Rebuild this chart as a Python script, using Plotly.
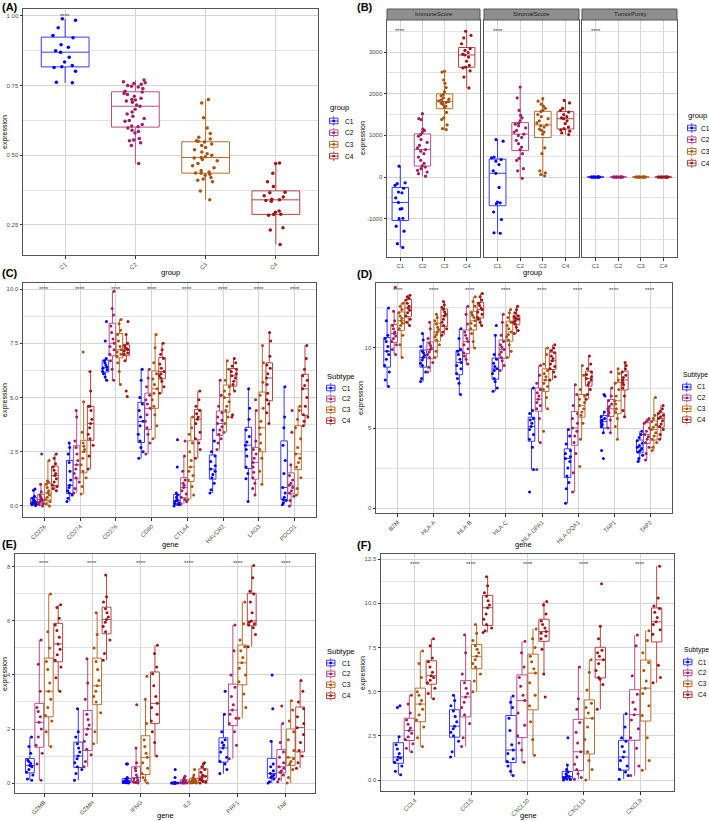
import plotly.graph_objects as go

W, H = 709, 821
FONT = "Liberation Sans, Arial, sans-serif"
SUBTYPES = ["C1", "C2", "C3", "C4"]
PT_COLORS = ["#0000FF", "#9E1F63", "#A8520E", "#9B1515"]
BOX_COLORS = ["#3A3AFF", "#B4508C", "#B86E30", "#B24444"]
GRID = "#D4D4D4"
GRID_MINOR = "#E3E3E3"
BORDER = "#555555"

# ---------------- Panel A ----------------
A_C1 = [0.760, 0.762, 0.802, 0.815, 0.818, 0.822, 0.835, 0.852, 0.870, 0.875, 0.888, 0.897, 0.922, 0.930, 0.958, 0.985, 0.990]
A_C2 = [0.470, 0.535, 0.545, 0.552, 0.555, 0.560, 0.580, 0.585, 0.590, 0.598, 0.602, 0.605, 0.610, 0.622, 0.625, 0.632, 0.640,
        0.648, 0.655, 0.665, 0.676, 0.680, 0.690, 0.695, 0.698, 0.700, 0.705, 0.712, 0.718, 0.722, 0.727, 0.730, 0.740, 0.745,
        0.748, 0.750, 0.755, 0.758, 0.760, 0.764, 0.770]
A_C3 = [0.340, 0.372, 0.405, 0.410, 0.415, 0.420, 0.428, 0.432, 0.435, 0.436, 0.440, 0.445, 0.455, 0.462, 0.470, 0.480, 0.485,
        0.490, 0.492, 0.495, 0.500, 0.505, 0.512, 0.520, 0.528, 0.535, 0.540, 0.548, 0.550, 0.552, 0.558, 0.565, 0.578, 0.598,
        0.635, 0.688, 0.700]
A_C4 = [0.180, 0.232, 0.240, 0.285, 0.287, 0.288, 0.295, 0.300, 0.335, 0.338, 0.340, 0.342, 0.350, 0.355, 0.365, 0.367, 0.388,
        0.405, 0.435, 0.470, 0.472]
A_sig_y = 1.0

# ---------------- Panel B ----------------
B_facets = ["ImmuneScore", "StromalScore", "TumorPurity"]
B_immune = [
    [-1690, -1600, -1300, -1180, -1000, -990, -770, -760, -610, -500, -380, -360, -270, -200, -160, -140, 260],
    [20, 80, 120, 160, 200, 240, 270, 330, 400, 480, 560, 620, 660, 700, 760, 830, 900, 980, 1020, 1080, 1120, 1150, 1380, 1400, 1520],
    [1140, 1160, 1250, 1380, 1420, 1550, 1670, 1700, 1740, 1770, 1790, 1800, 1810, 1830, 1850, 1870, 1900, 1950, 1980, 2050, 2150, 2250, 2330, 2520, 2540],
    [2140, 2400, 2550, 2620, 2640, 2680, 2780, 2880, 2930, 2950, 2990, 3040, 3080, 3200, 3340, 3400, 3500],
]
B_stromal = [
    [-1350, -1340, -1020, -840, -640, -620, -600, -250, 90, 150, 300, 380, 420, 460, 480, 860, 900],
    [-30, 150, 200, 400, 450, 560, 660, 720, 800, 880, 950, 1000, 1030, 1080, 1120, 1180, 1230, 1270, 1290, 1350, 1420, 1480, 1600, 1900, 2160],
    [30, 60, 100, 150, 560, 700, 1030, 1080, 1120, 1150, 1200, 1230, 1250, 1300, 1350, 1400, 1450, 1500, 1570, 1600, 1650, 1700, 1750, 1820, 1880],
    [1020, 1060, 1100, 1130, 1160, 1200, 1280, 1350, 1400, 1420, 1450, 1500, 1560, 1600, 1650, 1780, 1840],
]
B_purity = [
    [0.78, 0.82, 0.85, 0.87, 0.89, 0.90, 0.91, 0.92, 0.93, 0.94, 0.95, 0.96, 0.97],
    [0.55, 0.60, 0.65, 0.68, 0.70, 0.73, 0.75, 0.77, 0.79, 0.81, 0.84, 0.87, 0.90],
    [0.45, 0.50, 0.55, 0.58, 0.62, 0.65, 0.68, 0.70, 0.72, 0.75, 0.78, 0.80, 0.85],
    [0.35, 0.40, 0.45, 0.48, 0.52, 0.55, 0.58, 0.60, 0.63, 0.66, 0.70, 0.74, 0.80],
]
B_ticks = [-1000, 0, 1000, 2000, 3000]
B_minor = [-1500, -500, 500, 1500, 2500, 3500]
B_sig_y = 3500

# ---------------- Panel C ----------------
C_genes = ["CD226", "CD274", "CD276", "CD80", "CTLA4", "HAVCR2", "LAG3", "PDCD1"]
C_C1 = [
    [0.02, 0.05, 0.08, 0.10, 0.14, 0.17, 0.20, 0.24, 0.30, 0.35, 0.45, 0.72, 0.78],
    [0.20, 0.35, 0.50, 0.60, 0.70, 0.85, 0.95, 1.20, 1.60, 2.00, 2.40, 2.70, 2.90],
    [5.80, 5.95, 6.10, 6.20, 6.28, 6.35, 6.40, 6.50, 6.60, 6.70, 6.80, 7.60, 8.50],
    [2.20, 2.50, 2.70, 3.00, 3.30, 3.70, 3.90, 4.10, 4.40, 4.70, 5.00, 5.80, 6.30],
    [0.00, 0.05, 0.08, 0.10, 0.15, 0.20, 0.25, 0.30, 0.40, 0.50, 0.60, 1.80, 3.05],
    [0.60, 0.75, 1.05, 1.30, 1.45, 1.60, 1.70, 1.85, 2.05, 2.30, 2.50, 3.00, 3.50],
    [0.20, 1.25, 1.50, 1.80, 2.30, 2.60, 2.80, 2.95, 3.20, 3.50, 4.00, 4.50, 5.40],
    [0.05, 0.15, 0.25, 0.30, 0.40, 0.60, 0.85, 1.50, 2.10, 2.80, 3.60, 4.10, 5.50],
]
C_C2 = [
    [0.00, 0.05, 0.10, 0.15, 0.20, 0.25, 0.30, 0.35, 0.42, 0.50, 0.65, 1.00, 2.40],
    [0.60, 0.80, 1.10, 1.30, 1.50, 1.70, 1.90, 2.10, 2.40, 2.70, 3.00, 4.10, 4.40],
    [5.80, 6.30, 6.70, 7.00, 7.20, 7.35, 7.50, 7.70, 8.00, 8.30, 8.80, 9.10, 9.90],
    [2.40, 2.90, 3.30, 3.60, 3.90, 4.20, 4.50, 4.70, 4.90, 5.10, 5.50, 5.90, 6.30],
    [0.10, 0.20, 0.30, 0.40, 0.55, 0.70, 0.85, 0.95, 1.05, 1.20, 1.60, 2.30, 3.00],
    [2.60, 2.90, 3.10, 3.30, 3.50, 3.65, 3.80, 3.95, 4.10, 4.30, 4.60, 5.10, 5.80],
    [0.50, 0.80, 1.05, 1.30, 1.55, 1.80, 2.00, 2.20, 2.40, 2.60, 3.00, 4.40, 4.90],
    [0.00, 0.25, 0.45, 0.60, 0.70, 0.85, 0.95, 1.05, 1.20, 1.40, 1.90, 3.40, 4.40],
]
C_C3 = [
    [0.00, 0.10, 0.20, 0.30, 0.40, 0.50, 0.60, 0.70, 0.85, 1.00, 1.10, 1.15, 2.10],
    [0.55, 0.90, 1.30, 1.60, 1.90, 2.20, 2.50, 2.60, 2.75, 2.90, 3.40, 4.80, 7.10],
    [5.60, 6.20, 6.60, 6.90, 7.00, 7.10, 7.20, 7.35, 7.60, 7.90, 8.10, 8.40, 8.60],
    [3.10, 3.70, 4.20, 4.60, 4.90, 5.20, 5.40, 5.60, 5.85, 6.10, 6.60, 7.30, 7.90],
    [0.30, 0.50, 0.90, 1.20, 1.40, 1.60, 1.80, 2.10, 2.50, 2.90, 3.30, 3.60, 4.10],
    [3.40, 3.80, 4.10, 4.40, 4.60, 4.80, 5.00, 5.15, 5.30, 5.50, 5.80, 6.30, 6.70],
    [1.00, 1.60, 2.20, 2.60, 2.90, 3.30, 3.60, 3.90, 4.50, 5.10, 5.70, 6.60, 7.40],
    [0.50, 0.80, 1.30, 1.80, 2.00, 2.20, 2.40, 2.70, 3.10, 3.60, 4.00, 4.40, 4.60],
]
C_C4 = [
    [0.70, 0.80, 0.90, 0.95, 1.10, 1.25, 1.40, 1.50, 1.65, 1.80, 1.95, 2.20, 2.40],
    [1.70, 2.30, 2.80, 3.10, 3.30, 3.60, 3.80, 4.00, 4.40, 4.60, 4.60, 5.30, 6.20],
    [5.05, 5.30, 6.70, 7.00, 7.05, 7.15, 7.20, 7.25, 7.30, 7.40, 7.50, 7.90, 8.50],
    [5.20, 5.50, 5.75, 5.90, 6.00, 6.10, 6.20, 6.35, 6.55, 6.80, 7.00, 7.20, 7.50],
    [2.20, 2.60, 2.90, 3.10, 3.40, 3.80, 4.00, 4.10, 4.25, 4.40, 4.60, 4.90, 5.30],
    [4.10, 4.20, 5.30, 5.60, 5.75, 5.90, 6.00, 6.10, 6.20, 6.30, 6.45, 6.60, 6.80],
    [3.80, 4.30, 4.70, 4.90, 5.20, 5.60, 5.90, 6.10, 6.35, 6.50, 6.90, 7.60, 8.00],
    [3.70, 3.90, 4.10, 4.20, 4.60, 5.00, 5.40, 5.55, 5.80, 6.00, 6.30, 6.80, 7.40],
]
C_sig_y = 10.0

# ---------------- Panel D ----------------
D_genes = ["B2M", "HLA-A", "HLA-B", "HLA-C", "HLA-DPA1", "HLA-DQA1", "TAP1", "TAP2"]
D_C1 = [
    [7.60, 8.00, 8.50, 8.90, 9.30, 9.60, 9.80, 10.10, 10.40, 10.60, 10.80, 11.70, 12.50],
    [7.90, 8.10, 8.50, 8.90, 9.05, 9.25, 9.40, 9.55, 9.70, 9.80, 10.10, 10.50, 10.90],
    [7.10, 7.80, 8.10, 8.40, 8.70, 8.90, 9.10, 9.30, 9.60, 9.80, 9.90, 10.60, 11.20],
    [7.30, 7.50, 7.90, 8.10, 8.40, 8.60, 8.70, 8.85, 9.05, 9.30, 9.60, 10.80, 11.40],
    [1.00, 2.40, 3.80, 4.30, 4.60, 4.90, 5.10, 5.30, 5.50, 5.60, 5.90, 6.10, 7.50],
    [0.30, 1.20, 1.60, 2.00, 2.50, 2.90, 3.10, 3.20, 3.40, 3.60, 4.00, 4.50, 4.90],
    [3.10, 3.60, 4.70, 5.10, 5.20, 5.30, 5.40, 5.50, 5.60, 5.70, 6.00, 7.00, 7.10],
    [2.90, 3.10, 3.30, 3.50, 3.60, 3.70, 3.80, 3.90, 4.05, 4.20, 4.40, 4.60, 4.80],
]
D_C2 = [
    [9.60, 9.90, 10.20, 10.40, 10.60, 10.75, 10.90, 11.00, 11.20, 11.40, 11.70, 12.30, 13.80],
    [8.50, 8.80, 9.10, 9.40, 9.60, 9.75, 9.90, 10.00, 10.15, 10.30, 10.60, 11.20, 11.60],
    [9.00, 9.30, 9.50, 9.70, 9.95, 10.20, 10.40, 10.60, 10.80, 11.00, 11.50, 12.10, 12.60],
    [8.60, 8.90, 9.20, 9.40, 9.60, 9.75, 9.90, 10.05, 10.20, 10.40, 10.80, 11.60, 12.10],
    [2.40, 4.10, 5.60, 6.20, 6.40, 6.60, 6.80, 7.00, 7.20, 7.40, 7.80, 8.30, 8.90],
    [1.00, 2.20, 3.40, 4.10, 4.50, 4.80, 5.00, 5.30, 5.60, 5.90, 6.40, 7.10, 7.70],
    [4.70, 5.00, 5.50, 5.80, 5.95, 6.10, 6.20, 6.35, 6.50, 6.70, 7.00, 7.50, 8.50],
    [3.00, 3.40, 3.80, 4.10, 4.30, 4.45, 4.60, 4.80, 5.00, 5.30, 5.40, 5.50, 5.60],
]
D_C3 = [
    [9.40, 10.20, 10.80, 11.20, 11.40, 11.55, 11.70, 11.85, 12.00, 12.20, 12.40, 12.60, 12.80],
    [9.40, 9.80, 10.20, 10.50, 10.70, 10.85, 11.00, 11.15, 11.30, 11.50, 11.70, 11.90, 12.10],
    [10.00, 10.40, 10.90, 11.20, 11.40, 11.55, 11.70, 11.90, 12.05, 12.20, 12.60, 12.90, 13.20],
    [9.40, 9.80, 10.20, 10.50, 10.70, 10.85, 11.00, 11.20, 11.40, 11.60, 11.90, 12.20, 12.40],
    [4.80, 6.20, 6.90, 7.40, 7.60, 7.80, 8.00, 8.20, 8.40, 8.60, 9.00, 9.60, 10.00],
    [2.60, 4.30, 5.30, 5.80, 6.00, 6.20, 6.40, 6.60, 6.80, 7.00, 7.40, 8.30, 8.90],
    [4.30, 5.10, 5.60, 6.00, 6.20, 6.50, 6.70, 7.00, 7.40, 7.80, 8.00, 8.40, 8.70],
    [3.60, 3.80, 4.10, 4.30, 4.50, 4.70, 4.90, 5.05, 5.20, 5.40, 5.60, 5.80, 6.90],
]
D_C4 = [
    [11.40, 11.60, 11.80, 12.00, 12.20, 12.35, 12.50, 12.60, 12.80, 13.00, 13.10, 13.20, 13.30],
    [10.80, 11.00, 11.20, 11.40, 11.60, 11.80, 12.00, 12.10, 12.25, 12.40, 12.55, 12.70, 12.90],
    [11.40, 11.60, 11.80, 11.90, 12.10, 12.25, 12.40, 12.50, 12.65, 12.80, 13.00, 13.20, 13.40],
    [10.90, 11.10, 11.30, 11.50, 11.60, 11.70, 11.80, 11.85, 11.95, 12.00, 12.20, 12.40, 12.60],
    [8.00, 8.20, 8.50, 8.70, 8.85, 9.00, 9.20, 9.35, 9.50, 9.70, 9.85, 10.00, 10.20],
    [6.80, 7.10, 7.40, 7.70, 7.85, 8.00, 8.10, 8.20, 8.35, 8.50, 8.70, 9.00, 9.50],
    [5.70, 6.10, 7.00, 7.50, 7.70, 7.85, 8.00, 8.15, 8.30, 8.50, 8.70, 8.90, 9.10],
    [4.30, 4.60, 4.90, 5.10, 5.25, 5.45, 5.60, 5.70, 5.80, 5.90, 6.05, 6.20, 6.40],
]
D_sig_y = 13.6

# ---------------- Panel E ----------------
E_genes = ["GZMB", "GZMH", "IFNG", "IL2", "PRF1", "TNF"]
E_C1 = [
    [0.10, 0.15, 0.30, 0.40, 0.50, 0.60, 0.65, 0.72, 0.80, 0.85, 1.10, 1.35, 1.70],
    [0.10, 0.35, 0.50, 0.60, 0.75, 0.90, 1.00, 1.15, 1.30, 1.45, 1.70, 1.90, 2.75],
    [0.00, 0.01, 0.02, 0.02, 0.04, 0.06, 0.08, 0.10, 0.12, 0.15, 0.20, 0.70, 0.70],
    [0.00, 0.00, 0.00, 0.00, 0.00, 0.00, 0.00, 0.00, 0.01, 0.01, 0.02, 0.20, 0.50],
    [0.35, 0.50, 0.70, 0.80, 0.95, 1.15, 1.30, 1.40, 1.50, 1.60, 1.90, 2.55, 3.40],
    [0.00, 0.05, 0.15, 0.20, 0.25, 0.30, 0.35, 0.45, 0.60, 0.70, 1.55, 2.75, 4.00],
]
E_C2 = [
    [0.10, 0.70, 1.10, 1.40, 1.70, 2.00, 2.25, 2.45, 2.65, 2.80, 3.40, 4.40, 5.30],
    [0.60, 0.80, 1.05, 1.25, 1.55, 1.80, 2.00, 2.15, 2.35, 2.55, 3.10, 3.70, 4.60],
    [0.00, 0.02, 0.04, 0.05, 0.10, 0.15, 0.20, 0.30, 0.45, 0.55, 0.75, 1.30, 2.90],
    [0.00, 0.00, 0.00, 0.00, 0.01, 0.02, 0.03, 0.05, 0.08, 0.10, 0.15, 0.20, 0.25],
    [0.90, 1.40, 1.90, 2.20, 2.40, 2.55, 2.70, 2.90, 3.20, 3.55, 4.00, 4.90, 5.85],
    [0.05, 0.15, 0.30, 0.40, 0.45, 0.55, 0.60, 0.75, 0.95, 1.15, 1.50, 2.20, 2.85],
]
E_C3 = [
    [1.35, 1.90, 2.30, 2.50, 2.80, 3.10, 3.40, 3.70, 4.20, 4.50, 5.00, 5.60, 7.00],
    [1.45, 1.90, 2.60, 3.00, 3.20, 3.40, 3.60, 3.80, 4.20, 4.50, 5.00, 5.50, 6.30],
    [0.00, 0.10, 0.20, 0.35, 0.55, 0.75, 0.95, 1.10, 1.35, 1.60, 2.20, 3.10, 3.95],
    [0.00, 0.00, 0.01, 0.02, 0.04, 0.06, 0.08, 0.10, 0.12, 0.15, 0.20, 0.30, 0.50],
    [2.40, 2.80, 3.30, 3.75, 4.00, 4.25, 4.45, 4.65, 4.90, 5.05, 5.30, 5.90, 6.70],
    [0.00, 0.20, 0.50, 0.70, 0.80, 0.90, 0.95, 1.20, 1.60, 1.90, 2.30, 2.70, 3.05],
]
E_C4 = [
    [3.40, 3.90, 4.30, 4.55, 4.75, 4.95, 5.15, 5.40, 5.65, 5.85, 6.10, 6.50, 6.60],
    [4.55, 4.80, 5.30, 5.60, 5.80, 5.95, 6.05, 6.15, 6.30, 6.45, 6.70, 6.90, 7.70],
    [1.00, 1.50, 1.90, 2.30, 2.55, 2.80, 2.95, 3.20, 3.60, 4.05, 4.30, 4.80, 5.10],
    [0.00, 0.03, 0.06, 0.10, 0.15, 0.20, 0.25, 0.30, 0.40, 0.50, 0.60, 0.70, 0.75],
    [5.05, 5.50, 5.75, 5.85, 5.90, 5.95, 6.00, 6.30, 6.70, 7.00, 7.10, 7.60, 8.05],
    [0.55, 0.75, 1.00, 1.20, 1.50, 1.80, 2.05, 2.20, 2.45, 2.75, 3.00, 3.40, 3.80],
]
E_sig_y = 8.15

# ---------------- Panel F ----------------
F_genes = ["CCL4", "CCL5", "CXCL10", "CXCL13", "CXCL9"]
F_C1 = [
    [0.30, 0.50, 0.80, 1.00, 1.15, 1.25, 1.30, 1.50, 1.75, 2.00, 2.45, 4.10, 4.20],
    [1.30, 1.60, 2.20, 2.50, 2.70, 2.90, 3.05, 3.30, 3.60, 3.90, 4.20, 4.50, 4.80],
    [0.25, 0.50, 0.80, 1.05, 1.20, 1.50, 1.70, 2.00, 2.80, 3.50, 4.10, 4.40, 4.75],
    [0.00, 0.03, 0.06, 0.10, 0.13, 0.17, 0.20, 0.25, 0.35, 0.45, 0.60, 0.85, 2.40],
    [0.05, 0.25, 0.45, 0.60, 0.80, 1.10, 1.30, 1.60, 1.90, 2.20, 2.40, 3.00, 3.75],
]
F_C2 = [
    [1.60, 1.80, 2.05, 2.30, 2.45, 2.65, 2.80, 2.95, 3.15, 3.40, 3.80, 4.30, 4.80],
    [1.90, 2.40, 3.20, 3.70, 4.10, 4.40, 4.70, 4.90, 5.20, 5.50, 6.00, 7.20, 8.22],
    [1.00, 1.70, 2.10, 2.50, 3.10, 3.80, 4.50, 4.80, 5.30, 5.80, 6.40, 7.20, 7.85],
    [0.05, 0.15, 0.35, 0.60, 0.90, 1.30, 1.60, 2.10, 2.70, 3.25, 4.00, 4.60, 6.40],
    [0.25, 0.80, 1.80, 2.40, 2.90, 3.40, 3.70, 4.00, 4.40, 4.85, 5.90, 7.60, 8.20],
]
F_C3 = [
    [1.90, 2.40, 3.00, 3.40, 3.70, 4.00, 4.30, 4.50, 4.80, 5.00, 5.80, 6.60, 7.30],
    [5.00, 5.60, 6.00, 6.40, 6.60, 6.80, 7.00, 7.20, 7.40, 7.60, 7.90, 8.30, 8.80],
    [1.40, 2.30, 3.30, 4.20, 4.80, 5.50, 6.05, 6.30, 6.70, 7.00, 7.50, 8.00, 8.55],
    [0.00, 0.60, 1.10, 1.60, 2.30, 3.00, 3.50, 3.80, 4.10, 4.35, 5.10, 6.10, 6.80],
    [0.55, 1.10, 2.40, 3.65, 4.20, 4.90, 5.20, 5.60, 6.20, 6.65, 7.20, 7.90, 8.45],
]
F_C4 = [
    [4.60, 4.90, 5.20, 5.50, 5.65, 5.80, 5.90, 6.10, 6.40, 6.70, 6.90, 7.60, 8.00],
    [8.35, 8.45, 8.60, 8.80, 9.10, 9.40, 9.75, 9.90, 10.15, 10.40, 10.60, 11.00, 11.50],
    [4.70, 6.00, 7.40, 8.00, 8.15, 8.30, 8.40, 8.60, 8.80, 9.00, 9.40, 9.90, 10.10],
    [4.00, 5.40, 5.70, 5.80, 6.20, 6.60, 6.80, 7.00, 7.20, 7.35, 8.00, 8.70, 11.10],
    [5.50, 5.80, 6.50, 8.25, 8.50, 8.80, 8.95, 9.20, 9.50, 9.70, 9.85, 10.30, 12.10],
]
F_sig_y = 12.2
SIG = "****"


def px(x):
    return x / W


def py(y):
    return 1 - y / H


fig = go.Figure()
shapes = []
annotations = []


def box_trace(xs, ys, i, xa, ya, jitter, size, width=None, og=None):
    kw = dict(x=xs, y=ys, name=SUBTYPES[i], xaxis=xa, yaxis=ya, boxpoints="all",
              jitter=jitter, pointpos=0, whiskerwidth=0, fillcolor="white",
              line=dict(color=BOX_COLORS[i], width=1),
              marker=dict(color=PT_COLORS[i], size=size),
              showlegend=False, hoverinfo="skip")
    if width is not None:
        kw["width"] = width
    kw["offsetgroup"] = og if og is not None else SUBTYPES[i]
    return go.Box(**kw)


# Panel A traces
for i, vals in enumerate([A_C1, A_C2, A_C3, A_C4]):
    fig.add_trace(box_trace([SUBTYPES[i]] * len(vals), vals, i, "x", "y", 0.6, 3.5, width=0.68, og="A"))

# Panel B traces
for f, data in enumerate([B_immune, B_stromal, B_purity]):
    xa, ya = "x%d" % (f + 2), "y%d" % (f + 2)
    for i, vals in enumerate(data):
        fig.add_trace(box_trace([SUBTYPES[i]] * len(vals), vals, i, xa, ya, 0.75, 3.2, width=0.74, og="B"))


def add_grouped(xa, ya, genes, per_sub):
    for i, lists in enumerate(per_sub):
        xs, ys = [], []
        for g, vals in zip(genes, lists):
            xs += [g] * len(vals)
            ys += vals
        fig.add_trace(box_trace(xs, ys, i, xa, ya, 0.9, 3.0))


add_grouped("x5", "y5", C_genes, [C_C1, C_C2, C_C3, C_C4])
add_grouped("x6", "y6", D_genes, [D_C1, D_C2, D_C3, D_C4])
add_grouped("x7", "y7", E_genes, [E_C1, E_C2, E_C3, E_C4])
add_grouped("x8", "y8", F_genes, [F_C1, F_C2, F_C3, F_C4])

tickfont = dict(size=6, color="#4D4D4D", family=FONT)


def xax(x0, x1, anchor, cats, angle):
    return dict(domain=[px(x0), px(x1)], anchor=anchor, type="category",
                categoryorder="array", categoryarray=cats, range=[-0.6, len(cats) - 0.4],
                showline=True, mirror=True, linecolor=BORDER, linewidth=1,
                ticks="outside", ticklen=2.5, tickwidth=0.8, tickcolor="#333333",
                tickfont=tickfont, tickangle=angle, showgrid=True, gridcolor=GRID,
                gridwidth=1, zeroline=False, fixedrange=True)


def yax(y0, y1, anchor, rng, dtick, tick0, fmt, show=True, matches=None):
    d = dict(domain=[py(y1), py(y0)], anchor=anchor, range=rng, dtick=dtick, tick0=tick0,
             tickformat=fmt, showline=True, mirror=True, linecolor=BORDER, linewidth=1,
             ticks="outside" if show else "", ticklen=2.5, tickwidth=0.8, tickcolor="#333333",
             tickfont=tickfont, showticklabels=show, showgrid=True, gridcolor=GRID,
             gridwidth=1, zeroline=False, fixedrange=True,
             minor=dict(dtick=dtick / 2, showgrid=True, gridcolor=GRID_MINOR, gridwidth=0.7))
    if matches:
        d["matches"] = matches
    return d


layout = dict(
    width=W, height=H, margin=dict(l=0, r=0, t=0, b=0),
    paper_bgcolor="white", plot_bgcolor="white",
    boxmode="group", boxgap=0.22, boxgroupgap=0.06,
    font=dict(family=FONT, color="black"),
    showlegend=False,
)
layout["xaxis"] = xax(23, 318, "y", SUBTYPES, -45)
layout["yaxis"] = yax(9, 255, "x", [0.142, 1.025], 0.25, 0.25, ".2f")

facet_x = [(387, 480), (484, 579), (582, 677)]
for f, (a, b) in enumerate(facet_x):
    n = f + 2
    layout["xaxis%d" % n] = xax(a, b, "y%d" % n, SUBTYPES, 0)
    yb = yax(20, 257, "x%d" % n, [-1920, 3770], 1000, 0, "d", show=(f == 0),
             matches=None if f == 0 else "y2")
    yb["tickmode"] = "array"
    yb["tickvals"] = B_ticks
    yb["ticktext"] = [str(v) for v in B_ticks]
    yb["minor"] = dict(tickmode="array", tickvals=B_minor, showgrid=True, gridcolor=GRID_MINOR, gridwidth=0.7)
    layout["yaxis%d" % n] = yb
    # strip
    shapes.append(dict(type="rect", xref="paper", yref="paper", x0=px(a), x1=px(b),
                       y0=py(20), y1=py(9), fillcolor="#8F8F8F", line=dict(color=BORDER, width=1)))
    annotations.append(dict(text=B_facets[f], x=px((a + b) / 2), y=py(14.5), xref="paper", yref="paper",
                            showarrow=False, font=dict(size=6, color="#1A1A1A"), xanchor="center", yanchor="middle"))

layout["xaxis5"] = xax(23, 316, "y5", C_genes, -45)
layout["yaxis5"] = yax(283, 517, "x5", [-0.51, 10.28], 2.5, 0, ".1f")
layout["xaxis6"] = xax(376, 672, "y6", D_genes, -45)
layout["yaxis6"] = yax(283, 513, "x6", [-0.31, 14.06], 5, 0, "d")
layout["xaxis7"] = xax(15, 315, "y7", E_genes, -45)
layout["yaxis7"] = yax(554, 793, "x7", [-0.37, 8.48], 2, 0, "d")
layout["xaxis8"] = xax(381, 674, "y8", F_genes, -45)
layout["yaxis8"] = yax(554, 791, "x8", [-0.62, 12.79], 2.5, 0, ".1f")

# significance labels
sigfont = dict(size=6, color="#333333")
annotations.append(dict(text=SIG, x="C1", y=A_sig_y, xref="x", yref="y", showarrow=False, font=sigfont))
for f in range(3):
    annotations.append(dict(text=SIG, x="C1", y=B_sig_y, xref="x%d" % (f + 2), yref="y%d" % (f + 2),
                            showarrow=False, font=sigfont))
for n, genes, sy in [(5, C_genes, C_sig_y), (6, D_genes, D_sig_y), (7, E_genes, E_sig_y), (8, F_genes, F_sig_y)]:
    for g in genes:
        annotations.append(dict(text=SIG, x=g, y=sy, xref="x%d" % n, yref="y%d" % n, showarrow=False, font=sigfont))


# axis titles
def ytitle(x, y):
    annotations.append(dict(text="expression", x=px(x), y=py(y), xref="paper", yref="paper", showarrow=False,
                            textangle=-90, font=dict(size=7, color="black"), xanchor="center", yanchor="middle"))


def xtitle(text, x, y):
    annotations.append(dict(text=text, x=px(x), y=py(y), xref="paper", yref="paper", showarrow=False,
                            font=dict(size=7.5, color="black"), xanchor="center", yanchor="middle"))


ytitle(5, 132); xtitle("group", 170, 272)
ytitle(363, 138); xtitle("group", 532, 272)
ytitle(5, 400); xtitle("gene", 170, 544)
ytitle(361, 398); xtitle("gene", 523, 544)
ytitle(5, 674); xtitle("gene", 165, 815)
ytitle(363, 673); xtitle("gene", 528, 815)

# panel labels
for lab, x, y in [("(A)", 0, 7), ("(B)", 355, 7), ("(C)", 0, 273), ("(D)", 355, 274), ("(E)", 0, 544), ("(F)", 355, 545)]:
    annotations.append(dict(text="<b>%s</b>" % lab, x=px(x), y=py(y), xref="paper", yref="paper", showarrow=False,
                            font=dict(size=11, color="black"), xanchor="left", yanchor="middle"))


# manual legends (ggplot style)
def legend_block(x0, ty, fy, dy, title, lab_dx=15, tsize=7.5):
    annotations.append(dict(text=title, x=px(x0), y=py(ty), xref="paper", yref="paper", showarrow=False,
                            font=dict(size=tsize, color="black"), xanchor="left", yanchor="middle"))
    for i, s in enumerate(SUBTYPES):
        yc = fy + i * dy
        k0, k1 = x0 + 1.5, x0 + 10
        cx = (k0 + k1) / 2
        col = BOX_COLORS[i]
        shapes.append(dict(type="rect", xref="paper", yref="paper", x0=px(k0), x1=px(k1), y0=py(yc + 2.8),
                           y1=py(yc - 2.8), line=dict(color=col, width=1), fillcolor="white"))
        shapes.append(dict(type="line", xref="paper", yref="paper", x0=px(cx), x1=px(cx), y0=py(yc - 4.8),
                           y1=py(yc - 2.8), line=dict(color=col, width=1)))
        shapes.append(dict(type="line", xref="paper", yref="paper", x0=px(cx), x1=px(cx), y0=py(yc + 2.8),
                           y1=py(yc + 4.8), line=dict(color=col, width=1)))
        shapes.append(dict(type="line", xref="paper", yref="paper", x0=px(k0), x1=px(k1), y0=py(yc),
                           y1=py(yc), line=dict(color=col, width=1)))
        shapes.append(dict(type="circle", xref="paper", yref="paper", x0=px(cx - 1.4), x1=px(cx + 1.4),
                           y0=py(yc + 1.4), y1=py(yc - 1.4), fillcolor=PT_COLORS[i], line=dict(width=0)))
        annotations.append(dict(text=s, x=px(x0 + lab_dx), y=py(yc), xref="paper", yref="paper", showarrow=False,
                                font=dict(size=6.5, color="black"), xanchor="left", yanchor="middle"))


legend_block(328, 108, 121, 11.7, "group")
legend_block(686, 116, 128, 11.7, "group", lab_dx=13)
legend_block(325, 376, 388, 10.9, "Subtype")
legend_block(681, 375, 387, 10.9, "Subtype", lab_dx=14, tsize=6.8)
legend_block(325, 651, 663, 10.9, "Subtype")
legend_block(682, 650, 662, 10.9, "Subtype", lab_dx=14, tsize=6.8)

layout["shapes"] = shapes
layout["annotations"] = annotations
fig.update_layout(**layout)
fig.write_html("out.html", config={"displayModeBar": False},
               post_script="document.body.style.margin='0px';document.body.style.overflow='hidden';")
